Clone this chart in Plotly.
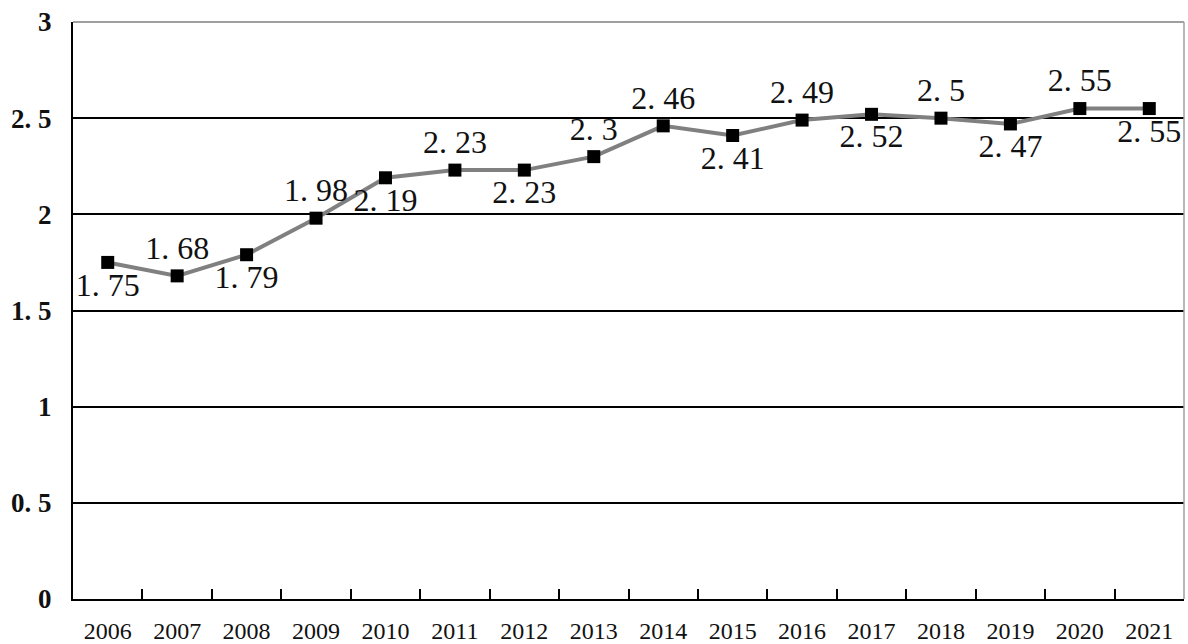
import plotly.graph_objects as go

years = ["2006", "2007", "2008", "2009", "2010", "2011", "2012", "2013",
         "2014", "2015", "2016", "2017", "2018", "2019", "2020", "2021"]
values = [1.75, 1.68, 1.79, 1.98, 2.19, 2.23, 2.23, 2.30,
          2.46, 2.41, 2.49, 2.52, 2.50, 2.47, 2.55, 2.55]
label_text = ["1. 75", "1. 68", "1. 79", "1. 98", "2. 19", "2. 23", "2. 23", "2. 3",
              "2. 46", "2. 41", "2. 49", "2. 52", "2. 5", "2. 47", "2. 55", "2. 55"]
label_pos = ["bottom center", "top center", "bottom center", "top center",
             "bottom center", "top center", "bottom center", "top center",
             "top center", "bottom center", "top center", "bottom center",
             "top center", "bottom center", "top center", "bottom center"]
y_ticks = [0, 0.5, 1, 1.5, 2, 2.5, 3]
y_tick_text = ["0", "0. 5", "1", "1. 5", "2", "2. 5", "3"]

fig = go.Figure()
fig.add_trace(go.Scatter(
    x=years, y=values, mode="lines+markers+text",
    line=dict(color="#808080", width=4),
    marker=dict(symbol="square", size=13, color="black"),
    text=label_text, textposition=label_pos,
    textfont=dict(family="Liberation Serif", size=32, color="#111"),
    cliponaxis=False, showlegend=False,
))

fig.update_layout(
    width=1188, height=644,
    margin=dict(l=73, r=4, t=22, b=45),
    paper_bgcolor="white", plot_bgcolor="white",
    xaxis=dict(
        type="category", range=[-0.5, 15.5], automargin=False,
        showgrid=False, showline=True, linecolor="black", linewidth=2,
        ticks="inside", tickson="boundaries", ticklen=10, tickwidth=2, tickcolor="black",
        ticklabelstandoff=9,
        tickfont=dict(family="Liberation Serif", size=24, color="#111"),
    ),
    yaxis=dict(
        range=[0, 3], tickvals=y_ticks, ticktext=y_tick_text, automargin=False,
        showgrid=True, gridcolor="black", gridwidth=2,
        showline=True, linecolor="black", linewidth=2,
        zeroline=False, ticks="", ticklabelstandoff=14,
        tickfont=dict(family="Liberation Serif", size=27, color="#111", weight="bold"),
    ),
    shapes=[
        dict(type="line", xref="paper", yref="paper", x0=0, x1=1, y0=1, y1=1,
             line=dict(color="#a0a0a0", width=2), layer="above"),
        dict(type="line", xref="paper", yref="paper", x0=1, x1=1, y0=0, y1=1,
             line=dict(color="#a0a0a0", width=1.5), layer="above"),
    ],
)

fig.write_html("out.html", config={"displayModeBar": False},
               post_script="document.body.style.margin='0';document.body.style.overflow='hidden';")
